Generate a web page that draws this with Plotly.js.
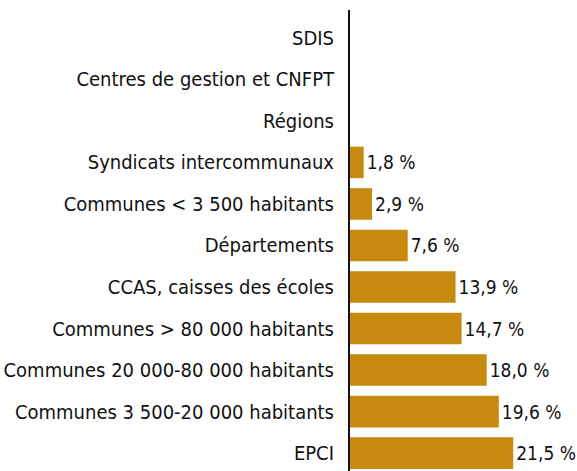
<!DOCTYPE html>
<html><head><meta charset="utf-8">
<script src="https://cdn.plot.ly/plotly-3.0.1.min.js"></script>
<style>html,body{margin:0;padding:0;background:#fff}</style>
</head><body>
<div id="chart" style="width:577px;height:471px"></div>
<script>
const categories = ["EPCI","Communes 3 500-20 000 habitants","Communes 20 000-80 000 habitants","Communes > 80 000 habitants","CCAS, caisses des écoles","Départements","Communes < 3 500 habitants","Syndicats intercommunaux","Régions","Centres de gestion et CNFPT","SDIS"];
const values = [21.5, 19.6, 18.0, 14.7, 13.9, 7.6, 2.9, 1.8, null, null, null];
const labels = values.map(v => v == null ? "" : v.toFixed(1).replace(".", ",") + " %");
const FONT = "'DejaVu Sans Condensed', 'Liberation Sans Narrow', sans-serif";
Plotly.newPlot("chart", [{
  type: "bar", orientation: "h", y: categories, x: values,
  marker: {color: "#C8890F"}, text: labels, textposition: "outside",
  cliponaxis: false, textfont: {family: FONT, size: 19, color: "#111"},
  hoverinfo: "none"
}], {
  width: 577, height: 471,
  margin: {l: 350, r: 0, t: 10, b: 0},
  paper_bgcolor: "#fff", plot_bgcolor: "#fff",
  bargap: 0.24,
  showlegend: false,
  font: {family: FONT, size: 20, color: "#111"},
  xaxis: {range: [0, 29.9], visible: false, fixedrange: true},
  yaxis: {type: "category", range: [-0.43, 10.67], showline: true, linecolor: "#111", linewidth: 2,
          showgrid: false, zeroline: false, ticks: "", ticklabelstandoff: 10,
          tickfont: {family: FONT, size: 20, color: "#111"}}
}, {displayModeBar: false, staticPlot: true});
</script>
</body></html>
